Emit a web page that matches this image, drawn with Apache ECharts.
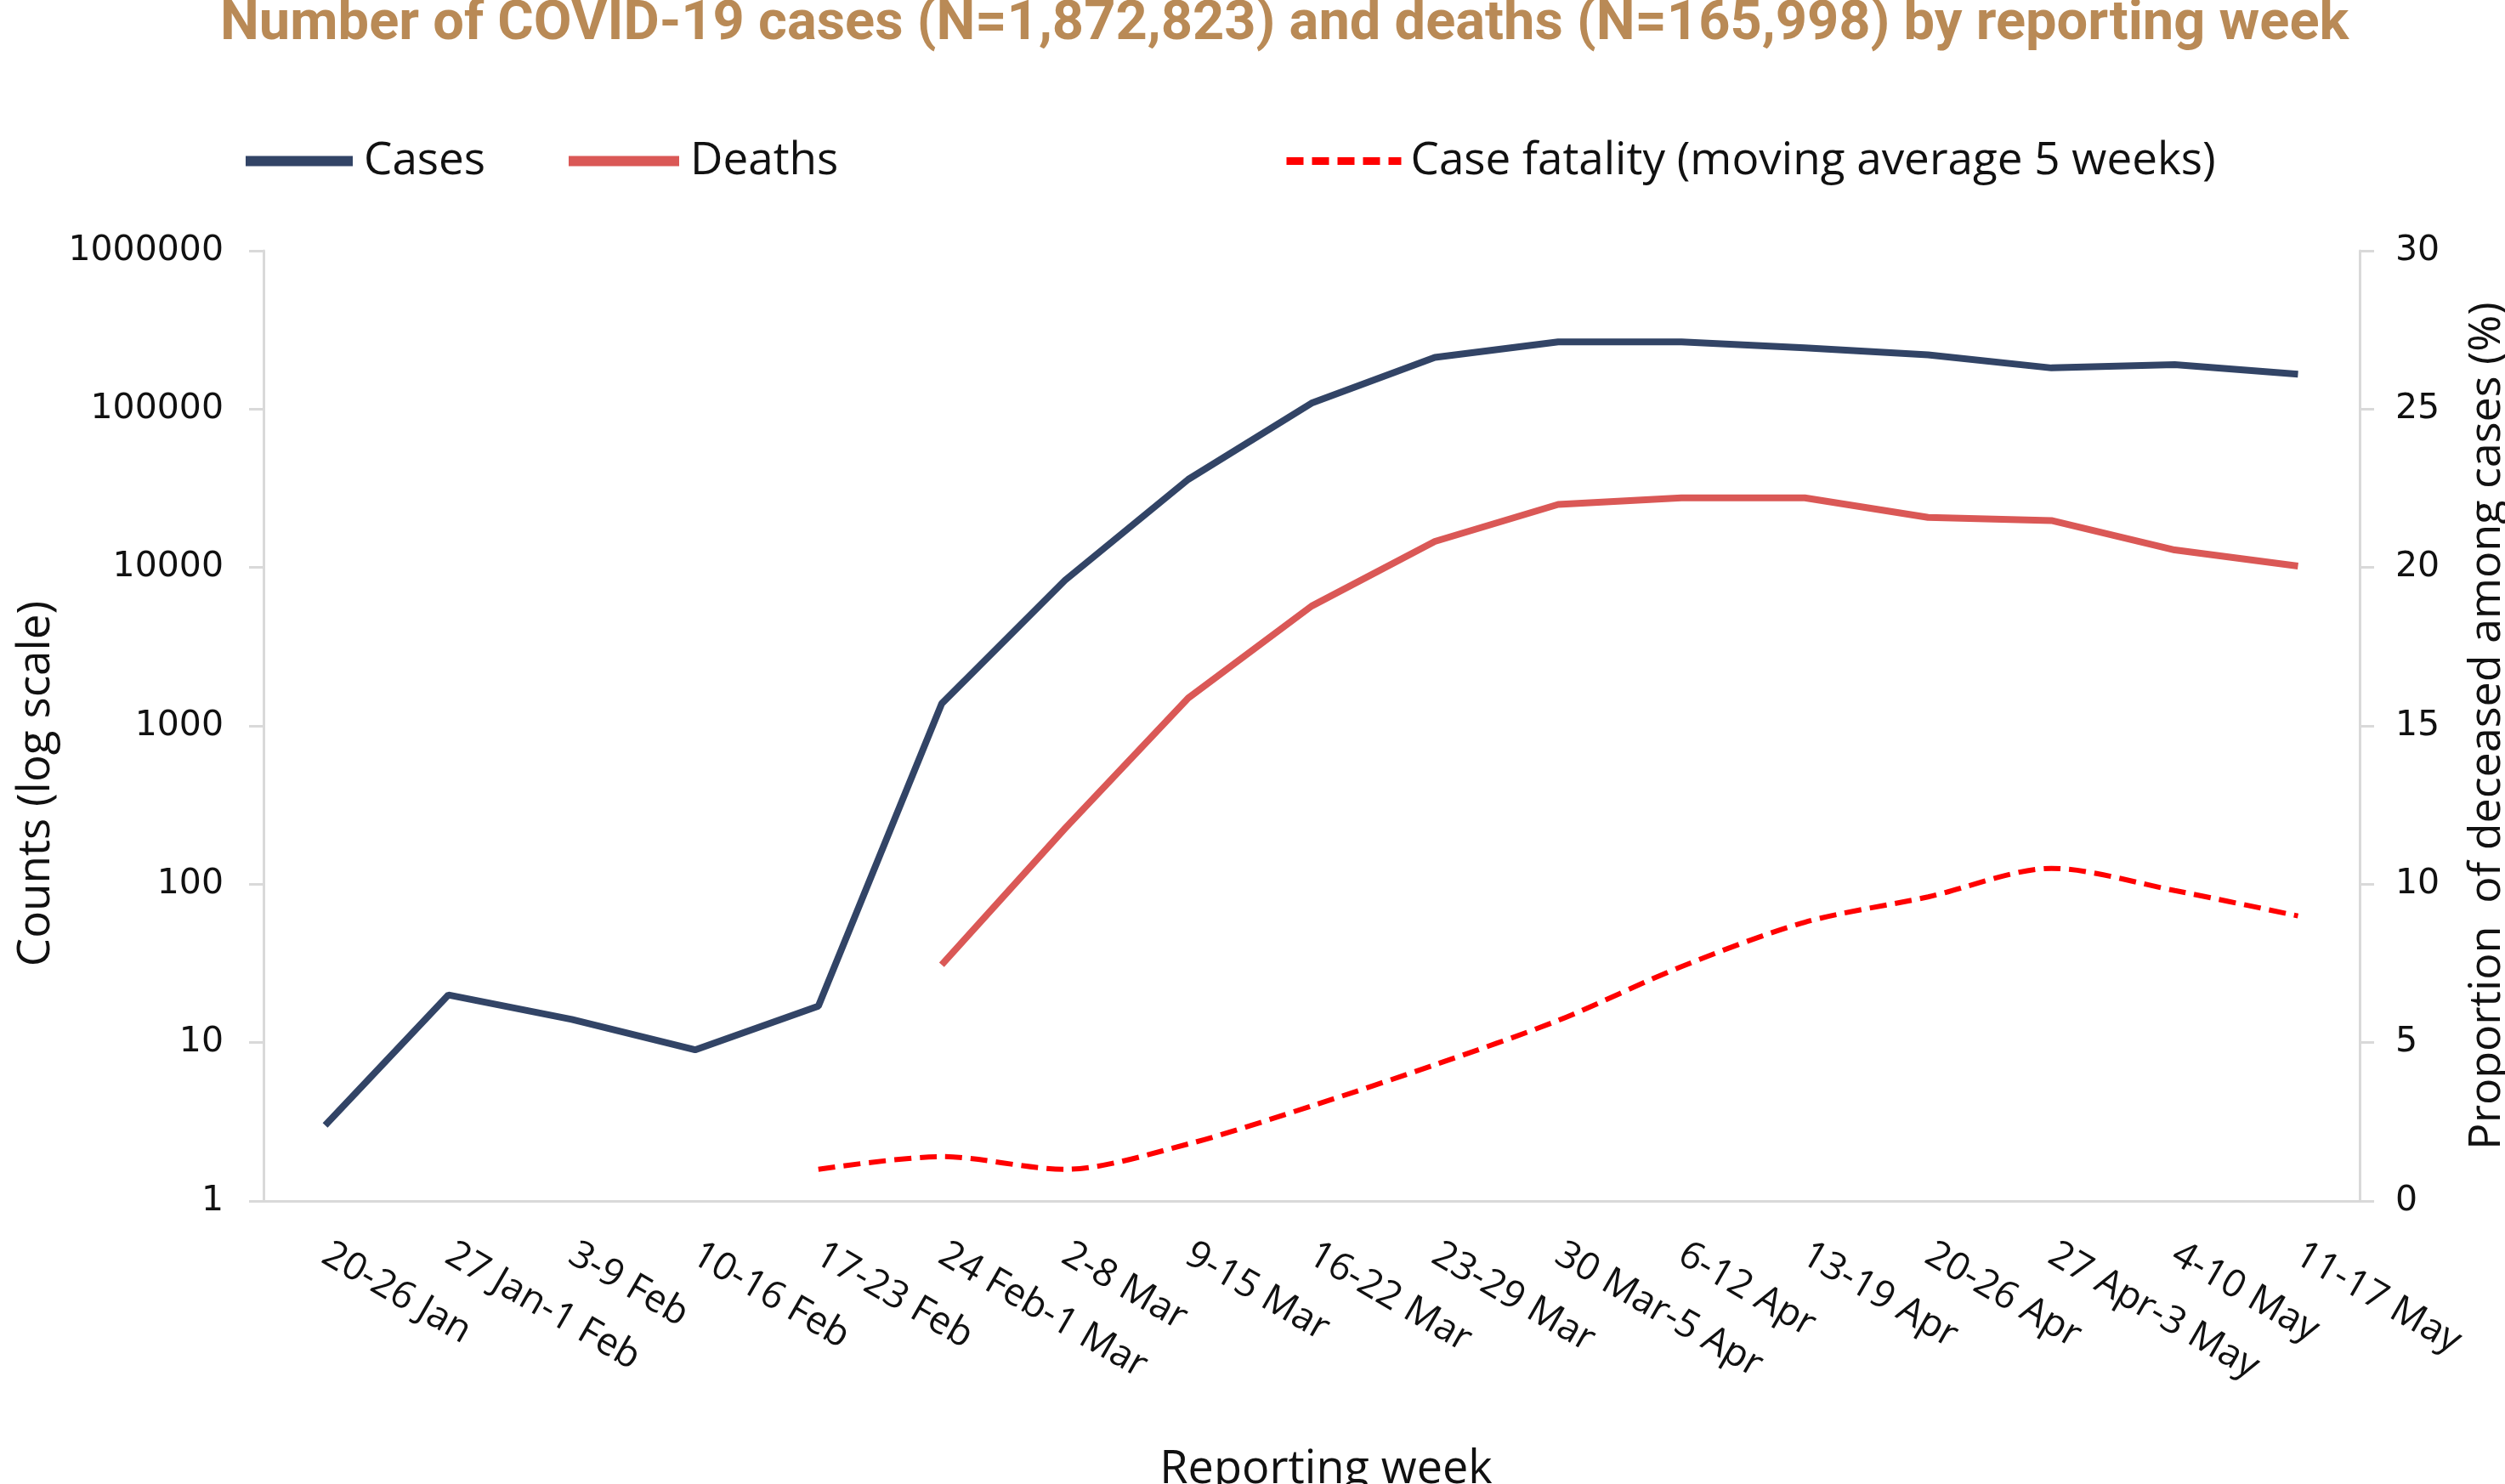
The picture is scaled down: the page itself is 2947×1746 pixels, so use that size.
<!DOCTYPE html>
<html>
<head>
    <meta charset="utf-8">
    <title>COVID-19 cases and deaths by reporting week</title>
    <script src="https://cdn.jsdelivr.net/npm/echarts@6/dist/echarts.min.js"></script>
    <style>
        html, body { margin: 0; padding: 0; background: #fff; }
        #main { width: 2947px; height: 1746px; }
    </style>
</head>
<body>
<div id="main"></div>
<script>
    // reporting weeks (x axis)
    var weeks = ['20-26 Jan', '27 Jan-1 Feb', '3-9 Feb', '10-16 Feb', '17-23 Feb', '24 Feb-1 Mar',
        '2-8 Mar', '9-15 Mar', '16-22 Mar', '23-29 Mar', '30 Mar-5 Apr', '6-12 Apr',
        '13-19 Apr', '20-26 Apr', '27 Apr-3 May', '4-10 May', '11-17 May'];

    // weekly counts
    var cases = [3, 20, 14, 9, 17, 1380, 8300, 36000, 109000, 212000, 266000, 266000,
        244000, 220000, 182000, 191000, 166000];
    var deaths = [null, null, null, null, null, 31, 225, 1500, 5700, 14600, 25000, 27500,
        27500, 20700, 19800, 12900, 10200];

    // case fatality %, moving average 5 weeks (right axis)
    var fatality = [null, null, null, null, 1.0, 1.4, 1.0, 1.8, 3.0, 4.3, 5.7, 7.4,
        8.8, 9.6, 10.5, 9.8, 9.0];

    // tick labels
    var countTicks = ['1', '10', '100', '1000', '10000', '100000', '1000000'];

    var axisGrey = '#D9D9D9';
    var textFont = 'Open Sans';

    var myChart = echarts.init(document.getElementById('main'));

    // legend text style, shared by the three legend blocks
    function legendText(padLeft) {
        return { fontFamily: textFont, fontSize: 53, color: '#111', padding: [0, 0, 0, padLeft] };
    }

    var option = {
        backgroundColor: '#fff',
        animation: false,
        title: {
            text: 'Number of COVID-19 cases (N=1,872,823) and deaths (N=165,998) by reporting week',
            left: 259,
            top: -3,
            padding: 0,
            textStyle: {
                fontFamily: 'Roboto',
                fontWeight: 'bold',
                fontSize: 65,
                color: '#B98A56'
            }
        },
        legend: [
            {
                data: ['Cases'],
                left: 278, top: 158,
                itemWidth: 126, itemHeight: 30,
                lineStyle: { width: 12 },
                itemStyle: { opacity: 0 },
                textStyle: legendText(8)
            },
            {
                data: ['Deaths'],
                left: 658, top: 158,
                itemWidth: 130, itemHeight: 30,
                lineStyle: { width: 12 },
                itemStyle: { opacity: 0 },
                textStyle: legendText(8)
            },
            {
                data: ['Case fatality (moving average 5 weeks)'],
                left: 1504, top: 158,
                itemWidth: 135, itemHeight: 30,
                lineStyle: { width: 9 },
                itemStyle: { opacity: 0 },
                textStyle: legendText(6)
            }
        ],
        grid: {
            left: 310,
            right: 171,
            top: 295,
            bottom: 333,
            outerBoundsMode: 'none'
        },
        xAxis: {
            type: 'category',
            data: weeks,
            boundaryGap: true,
            name: 'Reporting week',
            nameLocation: 'middle',
            nameGap: 290,
            nameTextStyle: { fontFamily: textFont, fontSize: 54, color: '#111', padding: [0, 0, 0, 34] },
            axisLine: { lineStyle: { color: axisGrey, width: 3 } },
            axisTick: { length: 15, lineStyle: { color: axisGrey, width: 3 } },
            axisLabel: {
                interval: 0,
                rotate: -30,
                margin: 60,
                fontFamily: textFont,
                fontSize: 45,
                color: '#111'
            },
            splitLine: { show: false }
        },
        yAxis: [
            {
                type: 'log',
                logBase: 10,
                min: 1,
                max: 1000000,
                interval: 1,
                position: 'left',
                name: 'Counts (log scale)',
                nameLocation: 'middle',
                nameRotate: 90,
                nameGap: 220,
                nameTextStyle: {
                    fontFamily: textFont, fontSize: 53, color: '#111',
                    padding: [0, 136, 0, 0]
                },
                axisLine: { show: true, lineStyle: { color: axisGrey, width: 3 } },
                axisTick: { show: true, length: 17, lineStyle: { color: axisGrey, width: 3 } },
                axisLabel: {
                    margin: 47,
                    fontFamily: 'DejaVu Sans',
                    fontSize: 41,
                    color: '#111',
                    formatter: function (v) {
                        return countTicks[Math.round(Math.log10(v))];
                    }
                },
                splitLine: { show: false }
            },
            {
                type: 'value',
                min: 0,
                max: 30,
                interval: 5,
                position: 'right',
                name: 'Proportion  of deceased among cases (%)',
                nameLocation: 'middle',
                nameRotate: 90,
                nameGap: 124,
                nameTextStyle: { fontFamily: textFont, fontSize: 52, color: '#111' },
                axisLine: { show: true, lineStyle: { color: axisGrey, width: 3 } },
                axisTick: { show: true, length: 17, lineStyle: { color: axisGrey, width: 3 } },
                axisLabel: {
                    margin: 42,
                    fontFamily: 'DejaVu Sans',
                    fontSize: 41,
                    color: '#111'
                },
                splitLine: { show: false }
            }
        ],
        series: [
            {
                name: 'Cases',
                type: 'line',
                yAxisIndex: 0,
                data: cases,
                symbol: 'none',
                color: '#324466',
                lineStyle: { color: '#324466', width: 8 }
            },
            {
                name: 'Deaths',
                type: 'line',
                yAxisIndex: 0,
                data: deaths,
                symbol: 'none',
                color: '#DA5856',
                lineStyle: { color: '#DA5856', width: 8 }
            },
            {
                name: 'Case fatality (moving average 5 weeks)',
                type: 'line',
                yAxisIndex: 1,
                data: fatality,
                symbol: 'none',
                smooth: 0.3,
                color: '#FF0000',
                lineStyle: { color: '#FF0000', width: 6, type: [20, 10] }
            }
        ]
    };

    myChart.setOption(option);
</script>
</body>
</html>
